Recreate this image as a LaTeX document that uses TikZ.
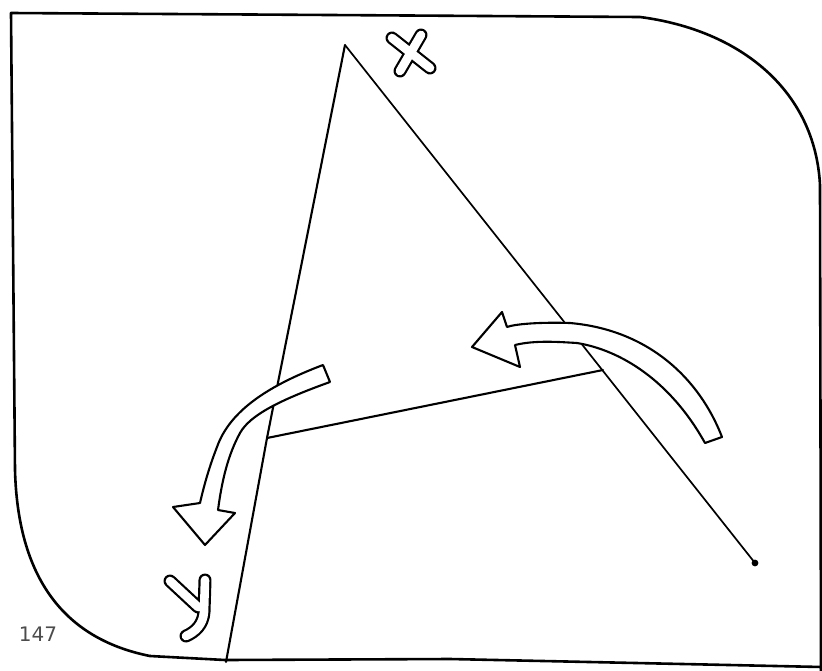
\documentclass[tikz,border=0pt]{standalone}
\usepackage{fontspec}
\setmainfont{DejaVu Sans}
\begin{document}
\begin{tikzpicture}[x=1pt,y=-1pt,line join=round,line cap=round,
  frame/.style={line width=2.6pt,black},
  edge/.style={line width=2.1pt,black},
  thinedge/.style={line width=1.7pt,black},
  bigarrow/.style={line width=2.1pt,black,fill=white},
  outerstroke/.style={line width=13pt,black},
  innerstroke/.style={line width=8.6pt,white}]
\useasboundingbox (0,0) rectangle (822,670);
% frame
\draw[frame] (150,656) .. controls (70,640) and (18,585) .. (15,470)
  -- (11,13) -- (330,15) -- (640,17)
  .. controls (740,30) and (815,90) .. (820,185) -- (821,672);
\draw[frame] (150,656) -- (225,660) -- (450,659) -- (822,667);
% triangle
\coordinate (A) at (345,45);
\coordinate (B) at (267,438);
\coordinate (C) at (603,370);
\coordinate (L) at (226,662);
\coordinate (R) at (755,563);
\draw[edge] (A) -- (B) -- (L);
\draw[thinedge] (A) -- (R);
\draw[edge] (B) -- (C);
\fill (R) circle (3.4);
% right arrow
\draw[bigarrow] (722,437) .. controls (700,380) and (650,330) .. (570,323)
  .. controls (540,322) and (515,324) .. (507,327) -- (502,312) -- (472,347)
  -- (520,367) -- (515,345) .. controls (535,340) and (560,342) .. (577,343)
  .. controls (620,350) and (670,380) .. (705,443) -- cycle;
% left arrow
\draw[bigarrow] (330,382) -- (323,365) .. controls (270,385) and (230,410) .. (217,447)
  .. controls (208,470) and (203,490) .. (200,503) -- (173,507) -- (205,545)
  -- (235,513) -- (218,510) .. controls (222,480) and (228,455) .. (240,433)
  .. controls (250,415) and (280,400) .. (330,382);
% X mark
\draw[outerstroke] (392,38) -- (430,68) (421,35) -- (400,71);
\draw[innerstroke] (392,38) -- (430,68) (421,35) -- (400,71);
% Y mark
\draw[outerstroke] (170,581) -- (198,607) (205,580) -- (204,612) .. controls (203,625) and (195,632) .. (186,636);
\draw[innerstroke] (170,581) -- (198,607) (205,580) -- (204,612) .. controls (203,625) and (195,632) .. (186,636);
% page number
\node[font=\fontsize{20}{20}\selectfont,text=black!70] (num) at (38,634) {147};
\end{tikzpicture}
\end{document}
